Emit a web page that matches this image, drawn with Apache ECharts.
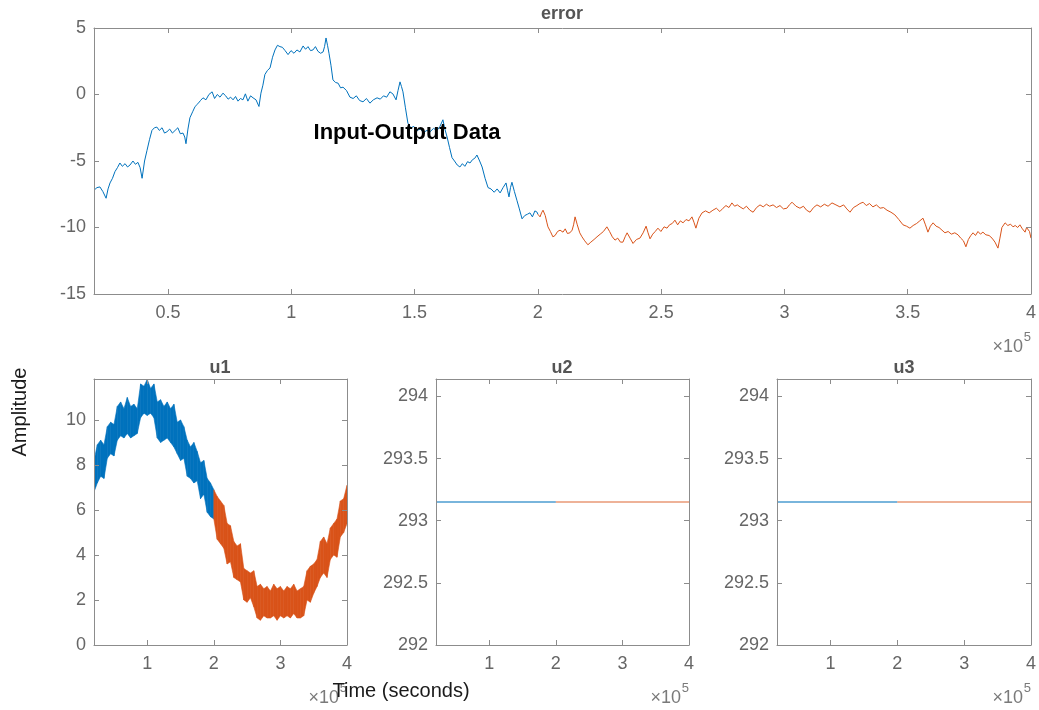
<!DOCTYPE html>
<html>
<head>
<meta charset="utf-8">
<title>Input-Output Data</title>
<script src="https://cdn.jsdelivr.net/npm/echarts@6/dist/echarts.min.js"></script>
<style>
  html, body { margin: 0; padding: 0; background: #fff; }
  #chart { width: 1039px; height: 710px; }
</style>
</head>
<body>
<div id="chart"></div>
<script>
// error signal, estimation part (blue) and validation part (orange)
const errTimeEst = [20000, 21200, 22400, 23600, 24900, 25700, 26500, 27500, 28500, 29500, 30500, 31500, 32600, 33600, 34600, 35800, 36800, 37800, 38700, 39500, 40500, 41500, 42500, 43500, 44500, 45500, 46500, 47600, 48600, 49600, 50700, 51800, 52900, 54000, 55000, 56100, 56800, 57300, 58100, 58900, 60000, 61000, 62100, 63200, 64200, 65400, 66600, 67900, 68900, 70000, 71100, 72300, 73400, 74400, 75400, 76400, 77400, 78400, 79400, 80400, 81400, 82400, 83500, 84500, 85700, 86900, 87700, 88500, 89300, 90300, 91400, 92400, 93400, 94400, 95400, 96400, 97500, 98700, 99900, 101100, 102300, 103500, 104800, 105800, 106800, 107800, 108800, 109800, 110800, 111900, 112900, 113500, 114100, 114700, 115300, 116100, 116900, 118000, 119000, 120000, 121000, 122400, 123800, 125100, 126400, 127700, 129100, 130500, 131900, 133300, 134800, 136100, 137400, 138700, 140000, 141200, 142500, 143300, 144100, 144700, 145300, 146300, 147300, 148500, 149700, 151000, 152300, 153700, 155000, 156300, 157700, 159100, 160300, 161500, 162300, 163200, 164200, 165200, 166200, 167300, 168400, 169400, 170400, 171500, 172500, 173500, 174400, 175300, 176400, 177400, 178600, 179800, 181000, 182300, 183500, 184700, 185900, 187100, 187700, 188300, 188900, 189500, 190500, 191500, 192500, 193600, 194700, 195800, 196800, 197800, 198800, 199700, 200000]
const errEst = [-7.2, -7.0, -6.95, -7.3, -7.8, -7.1, -6.65, -6.3, -5.8, -5.5, -5.15, -5.4, -5.2, -5.45, -5.3, -5.0, -5.25, -5.1, -5.5, -6.3, -5.0, -4.2, -3.4, -2.7, -2.5, -2.45, -2.7, -2.5, -2.9, -2.8, -2.6, -2.9, -2.7, -2.5, -2.95, -2.9, -3.2, -3.7, -2.6, -1.75, -1.3, -0.9, -0.7, -0.45, -0.25, -0.4, 0.0, 0.2, -0.3, 0.0, -0.2, 0.1, -0.1, -0.35, -0.2, -0.4, -0.15, -0.5, -0.3, -0.4, 0.05, -0.5, -0.1, -0.25, -0.4, -0.9, 0.1, 0.7, 1.5, 1.8, 2.0, 2.8, 3.35, 3.7, 3.6, 3.55, 3.3, 3.0, 3.3, 3.1, 3.35, 3.2, 3.65, 3.4, 3.6, 3.3, 3.35, 3.6, 3.25, 3.1, 3.2, 3.6, 4.25, 3.7, 3.1, 2.2, 1.1, 0.9, 0.85, 0.5, 0.55, 0.3, -0.2, -0.3, -0.1, -0.45, -0.55, -0.3, -0.65, -0.4, -0.25, -0.35, -0.1, -0.2, 0.2, 0.05, -0.4, 0.3, 0.95, 0.6, 0.2, -1.0, -2.15, -2.5, -2.4, -2.7, -2.6, -2.85, -2.7, -2.8, -2.55, -2.7, -2.4, -1.9, -2.6, -3.2, -4.0, -4.75, -5.0, -5.3, -5.45, -5.2, -5.4, -5.05, -5.15, -4.9, -4.8, -4.55, -5.0, -5.45, -6.3, -7.0, -7.1, -7.35, -7.1, -7.4, -7.0, -6.65, -7.2, -7.7, -7.0, -6.6, -7.3, -7.95, -8.6, -9.35, -9.1, -9.0, -8.9, -9.2, -8.75, -8.85, -9.0]
const errTimeVal = [200000, 200900, 201500, 202100, 203000, 203700, 204100, 205100, 206100, 207000, 208000, 209000, 210200, 211100, 212000, 213000, 213900, 214500, 215100, 216000, 217000, 217900, 219000, 220300, 221500, 222800, 224000, 225300, 226600, 228000, 229100, 230200, 231300, 232400, 233500, 234500, 235400, 236200, 237400, 238600, 240000, 241400, 242700, 243900, 244700, 245500, 246600, 247600, 248700, 249900, 251200, 252400, 253400, 254500, 255600, 256700, 257800, 258900, 260100, 261300, 262500, 263300, 264100, 265300, 266600, 268000, 269500, 271000, 272400, 273800, 275100, 276300, 277500, 278700, 279800, 280900, 282000, 283300, 284600, 286000, 287300, 288700, 290100, 291400, 292700, 294000, 295400, 296800, 298200, 299600, 301000, 302000, 303100, 304700, 306300, 307700, 309000, 310400, 311800, 313200, 314700, 316200, 317700, 319300, 320900, 322500, 324000, 325300, 326600, 328000, 329400, 330600, 331900, 333200, 334500, 335900, 337300, 338800, 340200, 341600, 343200, 344800, 346400, 348100, 349500, 350900, 352200, 353600, 354900, 356200, 357200, 358200, 359200, 360300, 361500, 362700, 363900, 365100, 366400, 367700, 369100, 370400, 371500, 372600, 373600, 374600, 375600, 376500, 377500, 378500, 379500, 380500, 381700, 383000, 384200, 385400, 386600, 387400, 388200, 389500, 390600, 391700, 392700, 393600, 394600, 395500, 396500, 397600, 398200, 398800, 399400, 400000]
const errVal = [-9.0, -9.2, -8.9, -8.7, -9.1, -9.65, -9.95, -10.3, -10.7, -10.6, -10.3, -10.2, -10.35, -10.1, -10.45, -10.4, -10.2, -9.8, -9.2, -9.8, -10.4, -10.7, -11.0, -11.3, -11.1, -10.9, -10.7, -10.5, -10.3, -9.95, -10.3, -10.7, -10.95, -10.8, -11.1, -11.1, -10.7, -10.4, -10.8, -11.2, -10.9, -10.8, -10.4, -9.9, -10.4, -10.85, -10.5, -10.3, -10.05, -10.3, -9.95, -10.05, -9.8, -9.7, -9.45, -9.8, -9.5, -9.65, -9.4, -9.5, -9.2, -9.6, -10.05, -9.3, -8.9, -8.75, -8.9, -8.7, -8.55, -8.8, -8.55, -8.35, -8.5, -8.15, -8.4, -8.3, -8.45, -8.6, -8.4, -8.7, -8.85, -8.5, -8.3, -8.45, -8.25, -8.4, -8.3, -8.5, -8.35, -8.6, -8.55, -8.3, -8.1, -8.4, -8.55, -8.4, -8.7, -8.85, -8.5, -8.3, -8.45, -8.25, -8.4, -8.15, -8.3, -8.45, -8.3, -8.6, -8.85, -8.5, -8.35, -8.2, -8.1, -8.35, -8.2, -8.45, -8.3, -8.55, -8.5, -8.7, -8.85, -9.05, -9.4, -9.8, -9.9, -10.05, -9.85, -9.7, -9.5, -9.3, -9.8, -10.35, -9.9, -9.65, -9.9, -10.0, -10.2, -10.4, -10.3, -10.5, -10.4, -10.55, -10.8, -11.0, -11.45, -10.9, -10.6, -10.4, -10.6, -10.3, -10.5, -10.35, -10.55, -10.6, -10.8, -11.1, -11.55, -10.8, -10.0, -9.65, -9.85, -9.75, -9.95, -9.85, -10.0, -9.8, -10.1, -10.35, -10.0, -10.05, -10.3, -10.8]

// u1: noisy input, read as upper / lower edge of the band
const u1TimeEst = [20000, 25000, 30000, 35000, 40000, 45000, 50000, 55000, 60000, 65000, 70000, 75000, 80000, 85000, 90000, 95000, 100000, 105000, 110000, 115000, 120000, 125000, 130000, 135000, 140000, 145000, 150000, 155000, 160000, 165000, 170000, 175000, 180000, 185000, 190000, 195000, 200000]
const u1UpperEst = [8.2, 8.9, 9.1, 8.9, 9.7, 9.9, 9.8, 10.6, 10.8, 10.5, 11.0, 10.6, 10.7, 10.5, 11.6, 11.5, 11.8, 11.4, 11.6, 10.8, 10.9, 10.6, 10.8, 10.5, 10.7, 9.9, 10.0, 9.7, 9.1, 8.8, 9.0, 8.6, 8.1, 8.2, 7.4, 7.2, 6.9]
const u1LowerEst = [6.8, 7.2, 7.5, 7.4, 8.3, 8.5, 8.4, 9.1, 9.3, 9.2, 9.4, 9.2, 9.3, 9.4, 10.1, 10.3, 10.2, 10.3, 10.1, 9.2, 9.0, 9.1, 9.2, 9.0, 8.8, 8.5, 8.2, 8.3, 7.5, 7.4, 7.2, 7.3, 6.5, 6.7, 5.9, 5.7, 5.6]
const u1TimeVal = [200000, 205000, 210000, 215000, 220000, 225000, 230000, 235000, 240000, 245000, 250000, 255000, 260000, 265000, 270000, 275000, 280000, 285000, 290000, 295000, 300000, 305000, 310000, 315000, 320000, 325000, 330000, 335000, 340000, 345000, 350000, 355000, 360000, 365000, 370000, 375000, 380000, 385000, 390000, 395000, 400000]
const u1UpperVal = [6.9, 6.6, 6.4, 6.2, 5.4, 5.3, 4.6, 4.4, 4.5, 3.4, 3.3, 3.2, 3.3, 2.6, 2.7, 2.5, 2.6, 2.4, 2.7, 2.5, 2.6, 2.4, 2.6, 2.5, 2.7, 2.4, 2.5, 2.6, 3.3, 3.5, 3.6, 3.8, 4.6, 4.8, 4.5, 5.2, 5.4, 5.6, 6.4, 6.5, 7.1]
const u1LowerVal = [5.6, 4.7, 4.5, 4.3, 3.6, 3.7, 3.0, 2.9, 2.8, 2.0, 1.9, 2.1, 1.7, 1.2, 1.1, 1.3, 1.2, 1.2, 1.3, 1.1, 1.3, 1.2, 1.3, 1.2, 1.4, 1.2, 1.2, 1.3, 2.0, 1.9, 2.3, 2.6, 3.0, 3.2, 3.0, 3.8, 4.0, 3.9, 4.8, 5.0, 5.4]

// u2, u3: constant inputs
const flatTimeEst = [20000, 200000]
const flatTimeVal = [200000, 400000]
const u2Est = [293.15, 293.15]
const u2Val = [293.15, 293.15]
const u3Est = [293.15, 293.15]
const u3Val = [293.15, 293.15]

// ticks
const errTicksX = [50000, 100000, 150000, 200000, 250000, 300000, 350000, 400000]
const errTicksY = [-15, -10, -5, 0, 5]
const inTicksX = [100000, 200000, 300000, 400000]
const u1TicksY = [0, 2, 4, 6, 8, 10]
const flatTicksY = [292, 292.5, 293, 293.5, 294]

const BLUE = '#0072BD'
const ORANGE = '#D95319'
const LINE = '#8c8c8c'
const LABEL = '#666666'
const FONT = '"Liberation Sans", Arial, Helvetica, sans-serif'

const zip = (xs, ys) => xs.map((x, i) => [x, ys[i]])

const grids = [
  { left: 94, top: 28, width: 937, height: 266 },
  { left: 94, top: 379, width: 253, height: 266 },
  { left: 436, top: 379, width: 253, height: 266 },
  { left: 777, top: 379, width: 254, height: 266 }
]
const yRanges = [[-15, 5], [0, 11.82], [292, 294.14], [292, 294.14]]
const yTicks = [errTicksY, u1TicksY, flatTicksY, flatTicksY]
const xTicks = [errTicksX, inTicksX, inTicksX, inTicksX]

const xAxis = []
const yAxis = []
grids.forEach((g, i) => {
  ;['bottom', 'top'].forEach(pos => {
    xAxis.push({
      type: 'value',
      gridIndex: i,
      position: pos,
      min: 20000,
      max: 400000,
      z: 10,
      axisLine: { show: true, onZero: false, lineStyle: { color: LINE, width: 1 } },
      axisTick: { show: true, inside: true, length: 5, customValues: xTicks[i], lineStyle: { color: LINE } },
      axisLabel: {
        show: pos === 'bottom',
        customValues: xTicks[i],
        formatter: v => String(+(v / 1e5).toFixed(2)),
        color: LABEL,
        fontSize: 18,
        fontFamily: FONT,
        margin: 10
      },
      splitLine: { show: false }
    })
  })
  ;['left', 'right'].forEach(pos => {
    yAxis.push({
      type: 'value',
      gridIndex: i,
      position: pos,
      min: yRanges[i][0],
      max: yRanges[i][1],
      z: 10,
      axisLine: { show: true, onZero: false, lineStyle: { color: LINE, width: 1 } },
      axisTick: { show: true, inside: true, length: 5, customValues: yTicks[i], lineStyle: { color: LINE } },
      axisLabel: {
        show: pos === 'left',
        customValues: yTicks[i],
        color: LABEL,
        fontSize: 18,
        fontFamily: FONT,
        margin: 8
      },
      splitLine: { show: false }
    })
  })
})

const thin = (name, idx, data, color, opacity, width) => ({
  name: name,
  type: 'line',
  xAxisIndex: idx * 2,
  yAxisIndex: idx * 2,
  data: data,
  symbol: 'none',
  silent: true,
  lineStyle: { color: color, width: width || 1, opacity: opacity },
  z: 3
})

// u1 band: one quad per pair of neighbouring samples, lower -> upper edge
const band = (name, times, upper, lower, color) => ({
  name: name,
  type: 'custom',
  xAxisIndex: 2,
  yAxisIndex: 2,
  silent: true,
  clip: true,
  data: times.slice(0, -1).map((t, i) => [t, lower[i], upper[i], times[i + 1], lower[i + 1], upper[i + 1]]),
  encode: { x: [0, 3], y: [1, 2, 4, 5] },
  renderItem: (params, api) => {
    const pts = [
      api.coord([api.value(0), api.value(2)]),
      api.coord([api.value(3), api.value(5)]),
      api.coord([api.value(3), api.value(4)]),
      api.coord([api.value(0), api.value(1)])
    ]
    return {
      type: 'polygon',
      shape: { points: pts },
      style: { fill: color, stroke: color, lineWidth: 0.6 }
    }
  },
  z: 2
})

const series = [
  thin('error est', 0, zip(errTimeEst, errEst), BLUE, 1),
  thin('error val', 0, zip(errTimeVal, errVal), ORANGE, 1),
  band('u1 est', u1TimeEst, u1UpperEst, u1LowerEst, BLUE),
  band('u1 val', u1TimeVal, u1UpperVal, u1LowerVal, ORANGE),
  thin('u2 est', 2, zip(flatTimeEst, u2Est), BLUE, 0.7, 1.5),
  thin('u2 val', 2, zip(flatTimeVal, u2Val), ORANGE, 0.6, 1.5),
  thin('u3 est', 3, zip(flatTimeEst, u3Est), BLUE, 0.7, 1.5),
  thin('u3 val', 3, zip(flatTimeVal, u3Val), ORANGE, 0.6, 1.5)
]

const panelTitle = (text, x, y) => ({
  text: text,
  left: x,
  top: y,
  textAlign: 'center',
  padding: 0,
  textStyle: { color: '#555555', fontSize: 18, fontWeight: 'bold', fontFamily: FONT }
})

const exponent = (right, bottom) => [
  {
    type: 'text',
    x: right - 8,
    y: bottom + 53,
    style: { text: '×10', fill: '#7a7a7a', fontSize: 18, fontFamily: FONT, align: 'right', verticalAlign: 'middle' },
    z: 10
  },
  {
    type: 'text',
    x: right,
    y: bottom + 43,
    style: { text: '5', fill: '#7a7a7a', fontSize: 13, fontFamily: FONT, align: 'right', verticalAlign: 'middle' },
    z: 10
  }
]

const chart = echarts.init(document.getElementById('chart'), null, { renderer: 'canvas' })
chart.setOption({
  animation: false,
  backgroundColor: '#ffffff',
  title: [
    panelTitle('error', 562, 5),
    panelTitle('u1', 220, 359),
    panelTitle('u2', 562, 359),
    panelTitle('u3', 904, 359)
  ],
  grid: grids,
  xAxis: xAxis,
  yAxis: yAxis,
  series: series,
  graphic: [
    ...exponent(1031, 294),
    ...exponent(347, 645),
    ...exponent(689, 645),
    ...exponent(1031, 645),
    {
      type: 'text',
      x: 407,
      y: 133,
      style: { text: 'Input-Output Data', fill: '#000000', fontSize: 22, fontWeight: 'bold', fontFamily: FONT, align: 'center', verticalAlign: 'middle' },
      z: 20
    },
    {
      type: 'text',
      x: 20,
      y: 412,
      rotation: Math.PI / 2,
      style: { text: 'Amplitude', fill: '#1a1a1a', fontSize: 20, fontFamily: FONT, align: 'center', verticalAlign: 'middle' },
      z: 20
    },
    {
      type: 'text',
      x: 401,
      y: 691,
      style: { text: 'Time (seconds)', fill: '#1a1a1a', fontSize: 20, fontFamily: FONT, align: 'center', verticalAlign: 'middle' },
      z: 20
    }
  ]
})
</script>
</body>
</html>
